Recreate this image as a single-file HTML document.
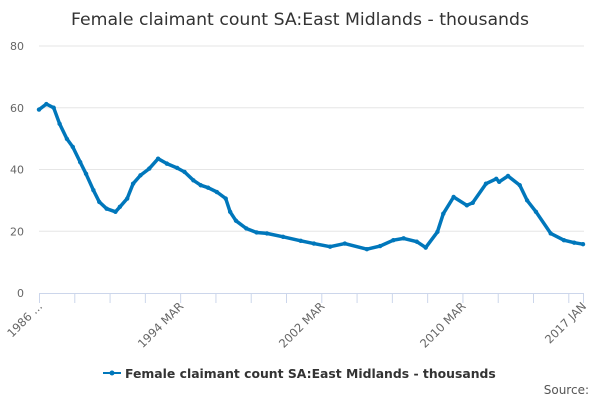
<!DOCTYPE html>
<html><head><meta charset="utf-8"><style>
body{margin:0;background:#fff;font-family:"Liberation Sans","DejaVu Sans",sans-serif}
svg text{font-family:"DejaVu Sans","Liberation Sans",sans-serif}
</style></head><body>
<svg id="c" width="600" height="400" xmlns="http://www.w3.org/2000/svg">
<rect width="600" height="400" fill="#fff"/>
<text x="300" y="25" text-anchor="middle" font-size="17.3" fill="#333">Female claimant count SA:East Midlands - thousands</text>
<g id="grid"></g><g id="axes"></g><g id="series"></g>
<g>
<line x1="103" y1="373" x2="121" y2="373" stroke="#0077bb" stroke-width="2"/>
<circle cx="112" cy="373" r="2.5" fill="#0077bb"/>
<text x="125" y="378" font-size="12.4" font-weight="bold" fill="#333">Female claimant count SA:East Midlands - thousands</text>
</g>
<text x="589" y="394" text-anchor="end" font-size="12" fill="#555">Source:</text>
</svg>
<script>
const monthIdx=[0,5,10,14,19,23,28,32,37,41,46,52,55,60,64,69,75,81,87,94,99,105,110,115,121,127,130,134,141,148,155,166,178,187,198,208,223,232,241,248,257,263,271,275,282,291,295,304,311,313,319,327,332,338,348,357,364,370];
const values=[59.4,61.2,60,54.8,49.9,47.3,42.4,38.6,33.3,29.5,27.3,26.3,27.9,30.6,35.4,38.1,40.3,43.5,41.9,40.5,39.2,36.5,34.9,34.1,32.7,30.6,26.3,23.4,20.9,19.6,19.3,18.2,16.9,16.0,15.0,16.0,14.2,15.2,17.1,17.7,16.6,14.7,19.8,25.7,31.1,28.4,29.2,35.4,37.0,36.0,37.9,34.9,30.0,26.3,19.3,17.1,16.3,15.8];
const yTicks=[0,20,40,60,80];
const xTickLabels=["1986 ...","1994 MAR","2002 MAR","2010 MAR","2017 JAN"];
const xTickLabelIdx=[0,96,192,288,370];
const NS="http://www.w3.org/2000/svg";
const x0=39,x1=583,yb=293,yt=46,nMax=370,yMax=80;
const xs=i=>x0+(x1-x0)*i/nMax;
const ys=v=>yb-(yb-yt)*v/yMax;
function mk(t,a,p){const e=document.createElementNS(NS,t);for(const k in a)e.setAttribute(k,a[k]);p.appendChild(e);return e;}
const grid=document.getElementById('grid'),axes=document.getElementById('axes'),ser=document.getElementById('series');
yTicks.forEach(v=>{
 if(v>0){const l=mk('line',{x1:x0,x2:x1+1,y1:ys(v),y2:ys(v),stroke:'#e6e6e6'},grid);
 
 }
 const t=mk('text',{x:24,y:ys(v)+4,'text-anchor':'end','font-size':11,fill:'#666'},axes);t.textContent=v;
 
 
});
const ax=mk('line',{x1:x0,x2:x1+1,y1:yb+0.5,y2:yb+0.5,stroke:'#ccd6eb'},axes);


for(let i=0;i<=nMax;i+=24){const tk=mk('line',{x1:xs(i)+0.5,x2:xs(i)+0.5,y1:yb,y2:yb+10,stroke:'#ccd6eb'},axes);
 
 }
const lt=mk('line',{x1:x1+0.5,x2:x1+0.5,y1:yb,y2:yb+10,stroke:'#ccd6eb'},axes);


xTickLabels.forEach((s,k)=>{const x=xs(xTickLabelIdx[k])+4,y=yb+14;
 const t=mk('text',{x:x,y:y,'text-anchor':'end','font-size':11.5,fill:'#666',transform:`rotate(-45 ${x} ${y})`},axes);t.textContent=s;
 
 });
let d='';monthIdx.forEach((m,i)=>{d+=(i?'L':'M')+xs(m).toFixed(1)+','+ys(values[i]).toFixed(1);});
const p=mk('path',{d:d,fill:'none',stroke:'#0077bb','stroke-width':3.5,'stroke-linejoin':'round'},ser);


monthIdx.forEach((m,i)=>{const c=mk('circle',{cx:xs(m),cy:ys(values[i]),r:2.2,fill:'#0077bb'},ser);
 
 });
</script>
</body></html>
